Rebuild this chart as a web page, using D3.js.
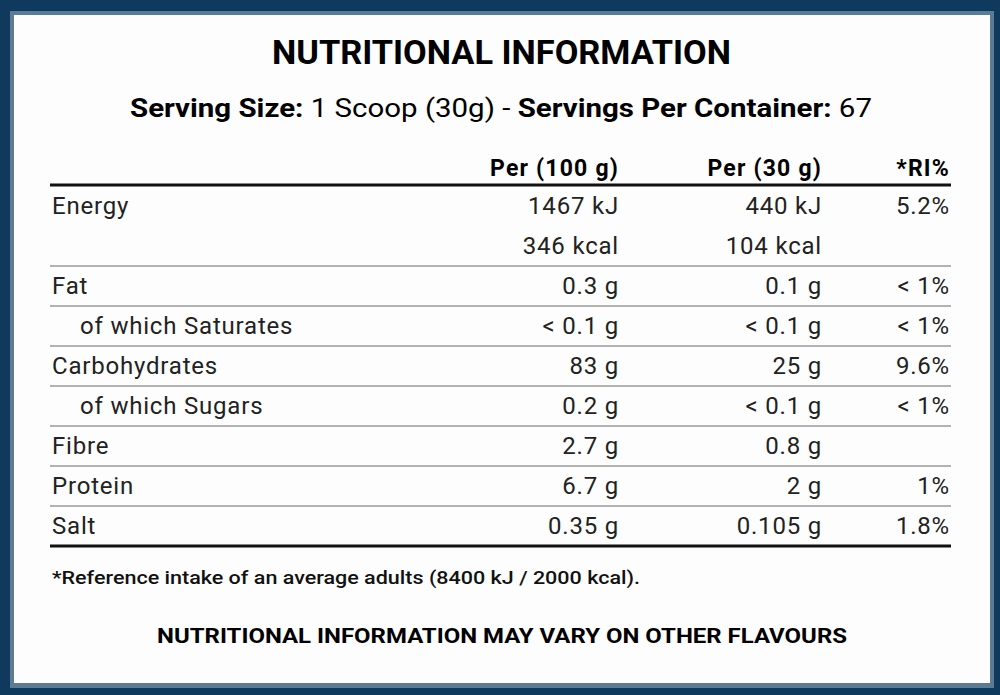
<!DOCTYPE html><html><head><meta charset="utf-8"><script src="https://cdn.jsdelivr.net/npm/d3@7"></script>
<style>body{margin:0;background:#0f3a5e}</style></head><body><svg id="c" width="1000" height="695"></svg>
<script>
const columns=["Per (100 g)","Per (30 g)","*RI%"];
const rows=[
 ["Energy","1467 kJ","440 kJ","5.2%"],
 ["","346 kcal","104 kcal",""],
 ["Fat","0.3 g","0.1 g","< 1%"],
 ["   of which Saturates","< 0.1 g","< 0.1 g","< 1%"],
 ["Carbohydrates","83 g","25 g","9.6%"],
 ["   of which Sugars","0.2 g","< 0.1 g","< 1%"],
 ["Fibre","2.7 g","0.8 g",""],
 ["Protein","6.7 g","2 g","1%"],
 ["Salt","0.35 g","0.105 g","1.8%"]];
const lineAfter=[false,true,true,true,true,true,true,true,false];
const svg=d3.select("#c"),F="Roboto, 'Noto Sans', sans-serif";
svg.append("rect").attr("width",1000).attr("height",695).attr("fill","#0f3a5e");
svg.append("rect").attr("x",10).attr("y",11).attr("width",984).attr("height",677).attr("fill","#5d7b93");
svg.append("rect").attr("x",14).attr("y",15).attr("width",976).attr("height",668).attr("fill","#fdfdfd");
svg.append("text").attr("x",272).attr("y",64).attr("textLength",459).attr("lengthAdjust","spacingAndGlyphs").attr("font-family",F).attr("font-weight","bold").attr("font-size",34).text("NUTRITIONAL INFORMATION");
const s=svg.append("text").attr("x",130).attr("y",117).attr("textLength",742).attr("lengthAdjust","spacingAndGlyphs").attr("font-family",F).attr("font-size",26);
s.append("tspan").attr("font-weight","bold").text("Serving Size:");
s.append("tspan").text(" 1 Scoop (30g) - ");
s.append("tspan").attr("font-weight","bold").text("Servings Per Container:");
s.append("tspan").text(" 67");
const colX=d3.scaleOrdinal().domain([0,1,2]).range([619,822,950]);
const y=d3.scaleBand().domain(d3.range(rows.length)).range([186,546]);
columns.forEach((c,i)=>svg.append("text").attr("x",colX(i)).attr("y",176).attr("text-anchor","end").attr("font-family",F).attr("font-weight","bold").attr("font-size",23).attr("letter-spacing",1.2).text(c));
svg.append("line").attr("x1",50).attr("x2",951).attr("y1",185).attr("y2",185).attr("stroke","#111").attr("stroke-width",3);
rows.forEach((r,i)=>{
 const yy=y(i)+y.bandwidth()/2+8;
 svg.append("text").attr("x",r[0].startsWith(" ")?80:52).attr("y",yy).attr("font-family",F).attr("font-size",24).attr("letter-spacing",0.8).attr("fill","#222").text(r[0].trim());
 r.slice(1).forEach((v,j)=>svg.append("text").attr("x",colX(j)).attr("y",yy).attr("text-anchor","end").attr("font-family",F).attr("font-size",24).attr("letter-spacing",0.8).attr("fill","#222").text(v));
 if(lineAfter[i])svg.append("line").attr("x1",50).attr("x2",951).attr("y1",y(i)+y.bandwidth()).attr("y2",y(i)+y.bandwidth()).attr("stroke","#999").attr("stroke-width",1.5);
});
svg.append("line").attr("x1",50).attr("x2",951).attr("y1",546).attr("y2",546).attr("stroke","#111").attr("stroke-width",3);
svg.append("text").attr("x",52).attr("y",584).attr("textLength",588).attr("lengthAdjust","spacingAndGlyphs").attr("font-family",F).attr("font-weight",500).attr("font-size",18).attr("fill","#111").text("*Reference intake of an average adults (8400 kJ / 2000 kcal).");
svg.append("text").attr("x",157).attr("y",643).attr("textLength",690).attr("lengthAdjust","spacingAndGlyphs").attr("font-family",F).attr("font-weight","bold").attr("font-size",21).text("NUTRITIONAL INFORMATION MAY VARY ON OTHER FLAVOURS");
</script></body></html>
